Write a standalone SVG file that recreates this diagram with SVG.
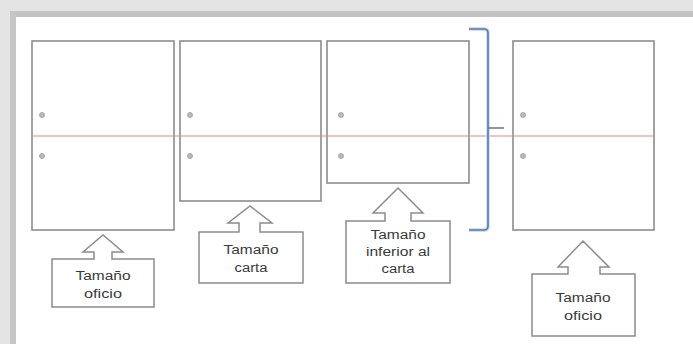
<svg xmlns="http://www.w3.org/2000/svg" width="693" height="344" viewBox="0 0 693 344">
<defs>
<style>
.page{fill:#fff;stroke:#8c8c8c;stroke-width:1.6}
.dot{fill:#bbb;stroke:#999;stroke-width:0.8}
.call{fill:#fff;stroke:#8c8c8c;stroke-width:1.5;stroke-linejoin:miter}
.lbl{font-family:"Liberation Sans",Arial,sans-serif;font-size:12px;fill:#3a3a3a;text-anchor:middle}
</style>
</defs>
<rect x="0" y="0" width="693" height="344" fill="#fff"/>
<rect x="0" y="0" width="693" height="11" fill="#e4e4e4"/>
<rect x="0" y="0" width="10" height="344" fill="#e4e4e4"/>
<rect x="10" y="11" width="683" height="6" fill="#c2c2c2"/>
<rect x="10" y="11" width="6" height="333" fill="#c6c6c6"/>
<g id="page1">
<rect class="page" x="32" y="41" width="142" height="189"/>
<circle class="dot" cx="42" cy="115" r="2.5"/>
<circle class="dot" cx="42" cy="156" r="2.5"/>
</g>
<g id="page2">
<rect class="page" x="180" y="41" width="141" height="160"/>
<circle class="dot" cx="190" cy="115" r="2.5"/>
<circle class="dot" cx="190" cy="156" r="2.5"/>
</g>
<g id="page3">
<rect class="page" x="327" y="41" width="142" height="142"/>
<circle class="dot" cx="341" cy="115" r="2.5"/>
<circle class="dot" cx="341" cy="156" r="2.5"/>
</g>
<g id="page4">
<rect class="page" x="513" y="41" width="141" height="189"/>
<circle class="dot" cx="523" cy="115" r="2.5"/>
<circle class="dot" cx="523" cy="156" r="2.5"/>
</g>
<g id="connectors">
<line x1="32" y1="136" x2="654" y2="136" stroke="#e08a8a" stroke-width="1.2"/>
<path d="M469,29 L484,29 Q488,29 488,33 L488,226 Q488,230 484,230 L469,230" fill="none" stroke="#cfe0f2" stroke-width="4"/>
<path d="M469,29 L484,29 Q488,29 488,33 L488,226 Q488,230 484,230 L469,230 M488,128 L504,128" fill="none" stroke="#5b76a8" stroke-width="1.6"/>
</g>
<g id="callout1">
<path class="call" d="M52,259 L94,259 L94,252 L83,252 L103,235 L123,252 L112,252 L112,259 L154,259 L154,307 L52,307 Z"/>
<text class="lbl" x="103" y="280" textLength="55" lengthAdjust="spacingAndGlyphs">Tamaño</text>
<text class="lbl" x="103" y="298" textLength="38" lengthAdjust="spacingAndGlyphs">oficio</text>
</g>
<g id="callout2">
<path class="call" d="M199,232 L239,232 L239,223 L228,223 L250,206 L272,223 L260,223 L260,232 L303,232 L303,283 L199,283 Z"/>
<text class="lbl" x="251" y="254" textLength="55" lengthAdjust="spacingAndGlyphs">Tamaño</text>
<text class="lbl" x="251" y="272" textLength="33" lengthAdjust="spacingAndGlyphs">carta</text>
</g>
<g id="callout3">
<path class="call" d="M346,221 L385,221 L385,213 L373,213 L398,188 L423,213 L411,213 L411,221 L450,221 L450,283 L346,283 Z"/>
<text class="lbl" x="398" y="239" textLength="55" lengthAdjust="spacingAndGlyphs">Tamaño</text>
<text class="lbl" x="398" y="256" textLength="64" lengthAdjust="spacingAndGlyphs">inferior al</text>
<text class="lbl" x="398" y="273" textLength="33" lengthAdjust="spacingAndGlyphs">carta</text>
</g>
<g id="callout4">
<path class="call" d="M532,274 L568,274 L568,267 L558,267 L583,241 L609,267 L600,267 L600,274 L635,274 L635,336 L532,336 Z"/>
<text class="lbl" x="583" y="302" textLength="55" lengthAdjust="spacingAndGlyphs">Tamaño</text>
<text class="lbl" x="583" y="320" textLength="38" lengthAdjust="spacingAndGlyphs">oficio</text>
</g>
</svg>
